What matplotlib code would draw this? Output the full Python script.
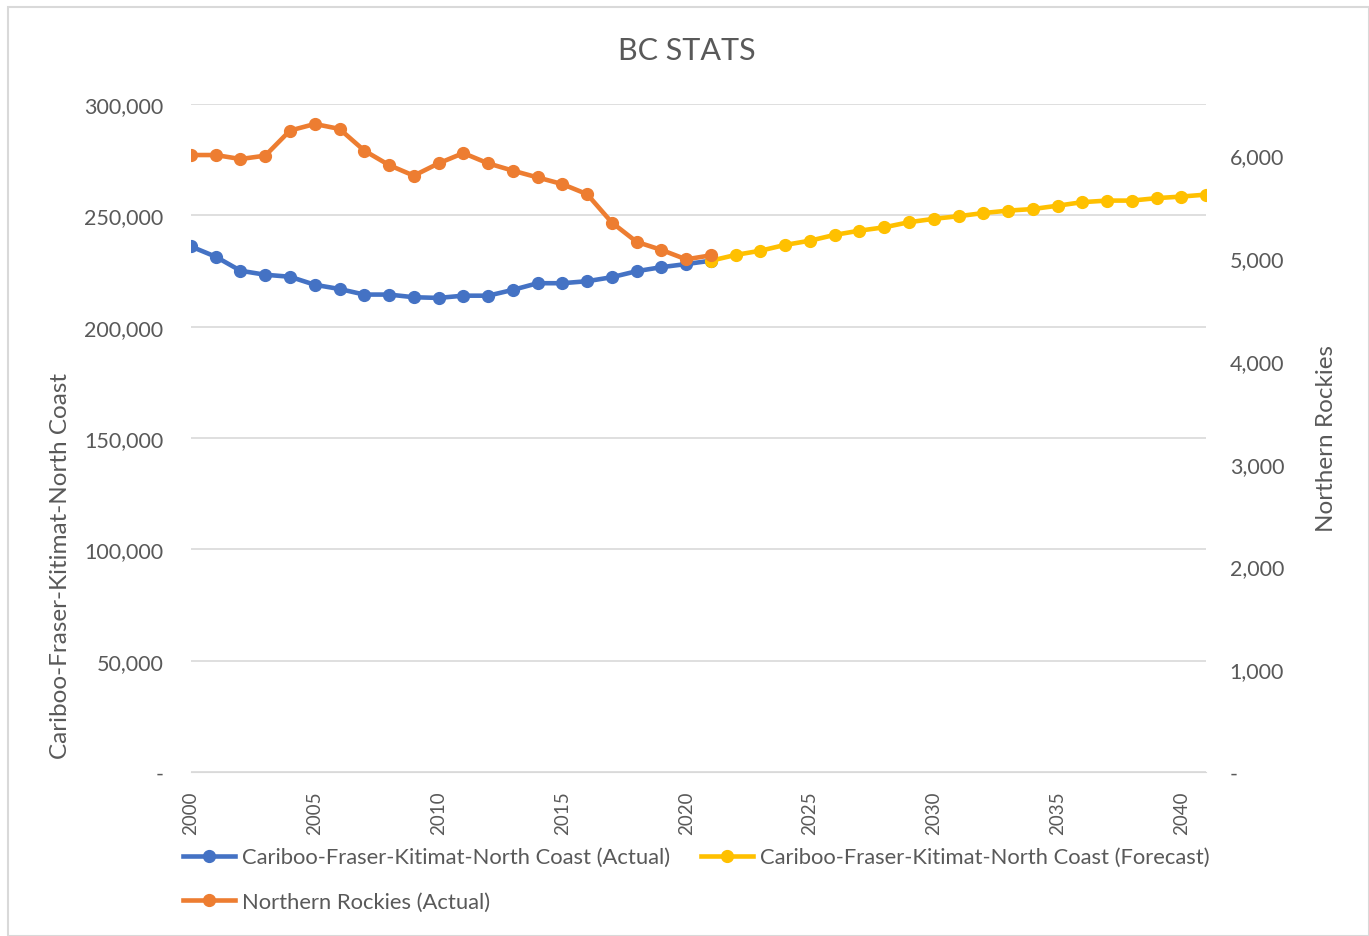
import matplotlib
matplotlib.use("Agg")
import matplotlib.pyplot as plt
from matplotlib.ticker import FuncFormatter
from matplotlib.patches import Rectangle

# data
years_actual = list(range(2000, 2022))
cfk_actual = [236000, 231400, 225100, 223300, 222400, 218800, 216900, 214400, 214400, 213200,
              212900, 213900, 213900, 216500, 219500, 219500, 220400, 222200, 224900, 226700,
              228100, 229600]
nr_actual = [6003, 6003, 5964, 5997, 6241, 6305, 6257, 6046, 5905, 5802,
             5922, 6022, 5922, 5851, 5785, 5720, 5622, 5346, 5158, 5080,
             4988, 5027]
years_fc = list(range(2021, 2042))
cfk_forecast = [229600, 232200, 234100, 236700, 238600, 241200, 243100, 244600, 246900, 248400,
                249600, 251000, 252100, 252800, 254300, 255900, 256600, 256600, 257700, 258400,
                259300]
xticks = list(range(2000, 2041, 5))

BLUE = "#4472C4"
ORANGE = "#ED7D31"
YELLOW = "#FFC000"
TXT = "#595959"
GRID = "#D9D9D9"

plt.rcParams['font.family'] = ['Lato', 'DejaVu Sans']

fig = plt.figure(figsize=(13.69, 9.37), dpi=100)
fig.patches.append(Rectangle((0.006, 0.0), 0.994, 0.991, transform=fig.transFigure,
                             fill=False, edgecolor=GRID, linewidth=1.5))

ax = fig.add_axes([0.1395, 0.175, 0.7415, 0.713])
ax2 = ax.twinx()

def fmt(v, pos):
    return "-" if v == 0 else "{:,.0f}".format(v)

lw, ms = 3.3, 8.5
l1, = ax.plot(years_actual, cfk_actual, color=BLUE, lw=lw, marker="o", ms=ms, zorder=3)
l2, = ax.plot(years_fc, cfk_forecast, color=YELLOW, lw=lw, marker="o", ms=ms, zorder=3)
l3, = ax2.plot(years_actual, nr_actual, color=ORANGE, lw=lw, marker="o", ms=ms, zorder=3)

ax.set_xlim(2000, 2041)
ax.set_ylim(0, 300000)
ax2.set_ylim(0, 6500)
ax.set_yticks(range(0, 300001, 50000))
ax2.set_yticks(range(0, 6001, 1000))
ax.yaxis.set_major_formatter(FuncFormatter(fmt))
ax2.yaxis.set_major_formatter(FuncFormatter(fmt))
ax.set_xticks(xticks)
ax.set_xticklabels([str(x) for x in xticks], rotation=90)

ax.grid(axis="y", color=GRID, lw=1.2)
ax.set_axisbelow(True)
for a in (ax, ax2):
    for s in a.spines.values():
        s.set_visible(False)
    a.tick_params(length=0, colors=TXT, labelsize=15.5)
ax.spines["bottom"].set_visible(True)
ax.spines["bottom"].set_color(GRID)
ax.tick_params(axis="y", pad=20)
ax2.tick_params(axis="y", pad=17)
ax.tick_params(axis="x", pad=13, labelsize=13.5)

ax.set_ylabel("Cariboo-Fraser-Kitimat-North Coast", color=TXT, fontsize=17.5)
ax.yaxis.set_label_coords(-0.118, 0.31)
ax2.set_ylabel("Northern Rockies", color=TXT, fontsize=17.5, rotation=90)
ax2.yaxis.set_label_coords(1.108, 0.5)

fig.text(0.502, 0.946, "BC STATS", ha="center", va="center", fontsize=22, color=TXT)

# column-first fill: blue, orange in col 1; yellow in col 2
fig.legend([l1, l3, l2],
           ["Cariboo-Fraser-Kitimat-North Coast (Actual)",
            "Northern Rockies (Actual)",
            "Cariboo-Fraser-Kitimat-North Coast (Forecast)"],
           loc="upper left", bbox_to_anchor=(0.127, 0.104), ncol=2, frameon=False,
           fontsize=15.8, labelcolor=TXT, handlelength=2.4, handletextpad=0.3,
           columnspacing=1.4, labelspacing=1.1, borderaxespad=0)

fig.savefig("out.png", dpi=100)
